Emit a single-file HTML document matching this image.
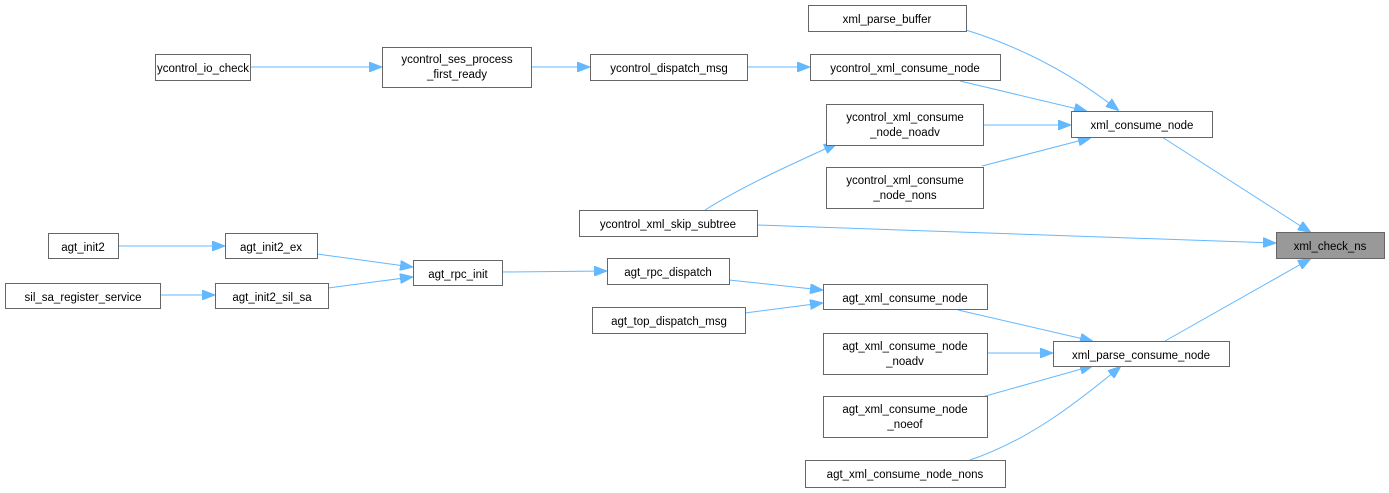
<!DOCTYPE html>
<html><head><meta charset="utf-8"><style>
html,body{margin:0;padding:0;background:#fff;}
svg{display:block;}
text{font-family:"Liberation Sans",Arial,sans-serif;font-size:11.5px;fill:#000;text-anchor:middle;}
rect{fill:#fff;stroke:#666;stroke-width:1;}
path{fill:none;stroke:#63b8ff;stroke-width:1;}
</style></head><body>
<svg width="1389" height="493" viewBox="0 0 1389 493">
<defs><marker id="a" markerWidth="13" markerHeight="10" refX="12" refY="5" orient="auto" markerUnits="userSpaceOnUse"><path d="M0,0 L13,5 L0,10 Z" style="fill:#63b8ff;stroke:#63b8ff"/></marker></defs>
<g marker-end="url(#a)">
<path d="M250,67 L381,67"/>
<path d="M531,67 L589,67"/>
<path d="M747,67 L809,67"/>
<path d="M966,30 C1030,50 1080,80 1118,110"/>
<path d="M960,81 L1086,111"/>
<path d="M983,125 L1070,125"/>
<path d="M982,166 L1090,138"/>
<path d="M705,210 C745,185 790,165 836,144"/>
<path d="M757,225 L1275,243"/>
<path d="M1162,137 L1310,232"/>
<path d="M1165,341 L1310,259"/>
<path d="M118,246 L224,246"/>
<path d="M317,254 L412,267"/>
<path d="M160,295 L214,295"/>
<path d="M328,288 L412,277"/>
<path d="M502,272 L606,271"/>
<path d="M729,280 L822,290"/>
<path d="M745,313 L822,303"/>
<path d="M958,310 L1092,341"/>
<path d="M987,353 L1052,353"/>
<path d="M982,397 L1092,366"/>
<path d="M970,460 C1030,440 1080,400 1120,367"/>
</g>
<rect x="808.5" y="5.5" width="158" height="26"/><text x="887" y="23">xml_parse_buffer</text>
<rect x="155.5" y="54.5" width="95" height="26"/><text x="203" y="72">ycontrol_io_check</text>
<rect x="382.5" y="47.5" width="149" height="40"/><text x="457" y="63">ycontrol_ses_process</text><text x="457" y="78">_first_ready</text>
<rect x="590.5" y="54.5" width="157" height="26"/><text x="669" y="72">ycontrol_dispatch_msg</text>
<rect x="810.5" y="54.5" width="190" height="26"/><text x="905" y="72">ycontrol_xml_consume_node</text>
<rect x="1071.5" y="111.5" width="141" height="26"/><text x="1142" y="129">xml_consume_node</text>
<rect x="826.5" y="104.5" width="157" height="41"/><text x="905" y="121">ycontrol_xml_consume</text><text x="905" y="136">_node_noadv</text>
<rect x="826.5" y="167.5" width="157" height="41"/><text x="905" y="184">ycontrol_xml_consume</text><text x="905" y="199">_node_nons</text>
<rect x="579.5" y="210.5" width="178" height="26"/><text x="668" y="228">ycontrol_xml_skip_subtree</text>
<rect x="1276.5" y="232.5" width="108" height="26" style="fill:#999"/><text x="1330" y="250">xml_check_ns</text>
<rect x="48.5" y="233.5" width="70" height="25"/><text x="83" y="251">agt_init2</text>
<rect x="225.5" y="233.5" width="92" height="25"/><text x="271" y="251">agt_init2_ex</text>
<rect x="413.5" y="260.5" width="89" height="25"/><text x="458" y="278">agt_rpc_init</text>
<rect x="607.5" y="258.5" width="122" height="26"/><text x="668" y="276">agt_rpc_dispatch</text>
<rect x="5.5" y="283.5" width="155" height="25"/><text x="83" y="301">sil_sa_register_service</text>
<rect x="215.5" y="283.5" width="113" height="25"/><text x="272" y="301">agt_init2_sil_sa</text>
<rect x="823.5" y="284.5" width="164" height="25"/><text x="905" y="302">agt_xml_consume_node</text>
<rect x="592.5" y="307.5" width="153" height="26"/><text x="669" y="325">agt_top_dispatch_msg</text>
<rect x="1053.5" y="341.5" width="176" height="25"/><text x="1141" y="359">xml_parse_consume_node</text>
<rect x="823.5" y="333.5" width="164" height="41"/><text x="905" y="350">agt_xml_consume_node</text><text x="905" y="365">_noadv</text>
<rect x="823.5" y="396.5" width="164" height="41"/><text x="905" y="413">agt_xml_consume_node</text><text x="905" y="428">_noeof</text>
<rect x="805.5" y="460.5" width="200" height="27"/><text x="905" y="478">agt_xml_consume_node_nons</text>
</svg>
</body></html>
